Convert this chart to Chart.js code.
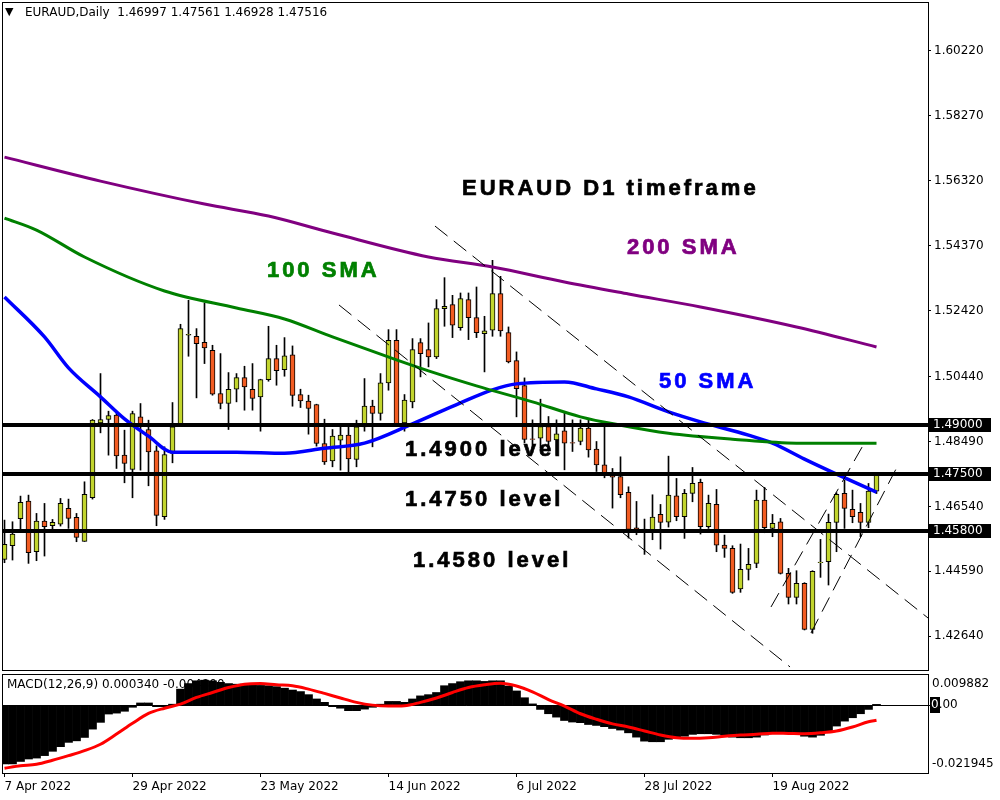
<!DOCTYPE html>
<html>
<head>
<meta charset="utf-8">
<script src="https://cdn.jsdelivr.net/npm/chart.js@4.4.0/dist/chart.umd.min.js"></script>
<style>
  html, body { margin: 0; padding: 0; background: #fff; }
  #wrap { position: relative; width: 1000px; height: 800px; overflow: hidden; background: #fff; }
  #priceCanvas { position: absolute; left: 0; top: 0; }
  #macdCanvas { position: absolute; left: 0; top: 672px; }
</style>
</head>
<body>
<div id="wrap">
  <canvas id="priceCanvas" width="1000" height="672"></canvas>
  <canvas id="macdCanvas" width="1000" height="128"></canvas>
</div>
<script>
// ===== EURAUD Daily - candles, SMAs, MACD =====

// daily candles, one per trading day from 7 Apr 2022
const opens  = [1.4495,1.4536,1.4617,1.4670,1.4518,1.4610,1.4596,1.4601,1.4648,1.4621,
                1.4549,1.4680,1.4905,1.4915,1.4928,1.4808,1.4765,1.4923,1.4885,1.4821,
                1.4623,1.4813,1.4895,1.5168,1.5165,1.5147,1.5123,1.4993,1.4963,1.5006,
                1.5041,1.5006,1.4983,1.5035,1.5098,1.5065,1.5109,1.4990,1.4970,1.4960,
                1.4843,1.4791,1.4853,1.4868,1.4795,1.4893,1.4955,1.4933,1.5025,1.5153,
                1.4905,1.4968,1.5146,1.5125,1.5103,1.5248,1.5260,1.5191,1.5275,1.5221,
                1.5173,1.5183,1.5293,1.5176,1.5092,1.5017,1.4857,1.4859,1.4894,1.4854,
                1.4881,1.4846,1.4849,1.4889,1.4826,1.4779,1.4746,1.4744,1.4696,1.4590,
                1.4586,1.4584,1.4630,1.4607,1.4686,1.4623,1.4693,1.4726,1.4593,1.4660,
                1.4538,1.4528,1.4406,1.4465,1.4483,1.4673,1.4588,1.4608,1.4453,1.4381,
                1.4423,1.4285,1.4485,1.4488,1.4606,1.4693,1.4645,1.4636,1.4606,1.46997];
const highs  = [1.4613,1.4608,1.4685,1.4688,1.4633,1.4663,1.4615,1.4678,1.4676,1.4633,
                1.4728,1.4915,1.5053,1.4940,1.4938,1.4883,1.4940,1.4963,1.4913,1.4836,
                1.4833,1.4966,1.5201,1.5273,1.5188,1.5265,1.5138,1.5113,1.5056,1.5053,
                1.5075,1.5083,1.5036,1.5195,1.5138,1.5161,1.5136,1.5006,1.4988,1.4961,
                1.4916,1.4885,1.4893,1.4893,1.4913,1.5038,1.4973,1.5053,1.5185,1.5185,
                1.4990,1.5158,1.5158,1.5205,1.5275,1.5341,1.5288,1.5295,1.5295,1.5313,
                1.5225,1.5393,1.5345,1.5193,1.5118,1.5040,1.4914,1.4976,1.4924,1.4914,
                1.4939,1.4914,1.4914,1.4914,1.4849,1.4896,1.4768,1.4803,1.4713,1.4669,
                1.4616,1.4689,1.4660,1.4805,1.4738,1.4705,1.4771,1.4736,1.4688,1.4705,
                1.4568,1.4536,1.4541,1.4528,1.4703,1.4711,1.4630,1.4618,1.4468,1.4461,
                1.4425,1.4461,1.4555,1.4631,1.4695,1.4733,1.4703,1.4663,1.4723,1.47561];
const lows   = [1.4485,1.4493,1.4585,1.4483,1.4491,1.4505,1.4585,1.4595,1.4588,1.4548,
                1.4549,1.4676,1.4875,1.4808,1.4768,1.4725,1.4680,1.4763,1.4716,1.4596,
                1.4615,1.4785,1.4895,1.5105,1.4980,1.5083,1.4988,1.4947,1.4885,1.4968,
                1.4943,1.4943,1.4880,1.5030,1.5018,1.5045,1.4955,1.4951,1.4871,1.4835,
                1.4780,1.4773,1.4763,1.4753,1.4773,1.4880,1.4833,1.4913,1.5003,1.4898,
                1.4880,1.4950,1.5043,1.5073,1.5098,1.5195,1.5161,1.5183,1.5155,1.5161,
                1.5058,1.5165,1.5165,1.5085,1.4923,1.4845,1.4815,1.4830,1.4820,1.4810,
                1.4764,1.4819,1.4839,1.4802,1.4759,1.4740,1.4649,1.4680,1.4559,1.4569,
                1.4510,1.4554,1.4526,1.4592,1.4611,1.4558,1.4668,1.4571,1.4588,1.4518,
                1.4501,1.4393,1.4396,1.4433,1.4470,1.4575,1.4563,1.4451,1.4361,1.4361,
                1.4283,1.4273,1.4441,1.4418,1.4518,1.4588,1.4605,1.4563,1.4590,1.46928];
const closes = [1.4540,1.4571,1.4666,1.4515,1.4610,1.4593,1.4606,1.4663,1.4618,1.4561,
                1.4690,1.4913,1.4915,1.4927,1.4806,1.4783,1.4933,1.4901,1.4818,1.4627,
                1.4810,1.4893,1.5188,1.5171,1.5143,1.5130,1.4991,1.4963,1.5006,1.5041,
                1.5013,1.4978,1.5035,1.5098,1.5062,1.5106,1.4987,1.4971,1.4948,1.4843,
                1.4788,1.4865,1.4868,1.4797,1.4893,1.4955,1.4933,1.5025,1.5153,1.4901,
                1.4973,1.5125,1.5113,1.5103,1.5248,1.5255,1.5198,1.5278,1.5221,1.5176,
                1.5181,1.5293,1.5181,1.5088,1.5008,1.4855,1.4855,1.4894,1.4849,1.4872,
                1.4844,1.4844,1.4889,1.4824,1.4779,1.4748,1.4742,1.4689,1.4585,1.4582,
                1.4580,1.4622,1.4606,1.4688,1.4623,1.4693,1.4723,1.4593,1.4663,1.4538,
                1.4528,1.4396,1.4465,1.4480,1.4673,1.4590,1.4603,1.4453,1.4381,1.4423,
                1.4285,1.4459,1.4487,1.4606,1.4690,1.4648,1.4623,1.4606,1.4700,1.47516];

// moving averages, read at sample bars
const sma50Idx  = [0,5,8,12,15,18,21,29,35,40,45,51,57,61,64,70,74,78,83,87,93,96,100,104,109];
const sma50Val  = [1.5283,1.5163,1.5070,1.4983,1.4917,1.4865,1.4817,1.4817,1.4814,1.4829,1.4844,1.4902,1.4965,
                   1.5004,1.5022,1.5028,1.5007,1.4983,1.4938,1.4908,1.4868,1.4844,1.4796,1.4751,1.4697];
const sma100Idx = [0,4,10,20,29,35,41,49,53,59,66,72,77,83,91,99,109];
const sma100Val = [1.5520,1.5484,1.5403,1.5301,1.5250,1.5217,1.5163,1.5094,1.5061,1.5016,1.4968,1.4923,
                   1.4898,1.4874,1.4856,1.4844,1.4844];
const sma200Idx = [0,12,25,33,41,53,61,70,78,87,99,109];
const sma200Val = [1.5703,1.5631,1.5562,1.5526,1.5475,1.5403,1.5373,1.5328,1.5292,1.5253,1.5193,1.5133];

// MACD(12,26,9): main value per bar and signal at sample bars
const macdHist = [-0.0190,-0.0190,-0.0182,-0.0174,-0.0171,-0.0163,-0.0149,-0.0134,-0.0120,-0.0115,
                  -0.0104,-0.0077,-0.0055,-0.0028,-0.0025,-0.0019,-0.0006,0.0008,0.0008,-0.0004,
                  -0.0004,0.0004,0.0053,0.0071,0.0080,0.0082,0.0080,0.0075,0.0071,0.0069,
                  0.0069,0.0067,0.0065,0.0064,0.0061,0.0056,0.0050,0.0045,0.0035,0.0021,
                  0.0010,-0.0004,-0.0009,-0.0017,-0.0017,-0.0012,-0.0006,0.0004,0.0013,0.0013,
                  0.0010,0.0021,0.0031,0.0035,0.0042,0.0064,0.0071,0.0077,0.0080,0.0080,
                  0.0078,0.0080,0.0080,0.0063,0.0047,0.0025,0.0005,-0.0013,-0.0027,-0.0038,
                  -0.0049,-0.0054,-0.0056,-0.0062,-0.0065,-0.0069,-0.0075,-0.0080,-0.0089,-0.0103,
                  -0.0116,-0.0118,-0.0118,-0.0110,-0.0105,-0.0100,-0.0094,-0.0092,-0.0092,-0.0094,
                  -0.0096,-0.0103,-0.0105,-0.0105,-0.0103,-0.0096,-0.0086,-0.0086,-0.0089,-0.0092,
                  -0.0100,-0.0103,-0.0097,-0.0083,-0.0067,-0.0051,-0.0040,-0.0027,-0.0013,0.00034];
const signalIdx = [0,2,4,6,8,10,12,14,16,18,20,22,24,26,28,30,32,34,36,38,40,42,44,46,48,50,52,54,
                   56,58,60,62,64,66,68,70,72,74,76,78,80,82,84,86,88,90,92,94,96,98,100,102,104,106,108,109];
const signalVal = [-0.0204,-0.0196,-0.0191,-0.0178,-0.0163,-0.0147,-0.0126,-0.0093,-0.0058,-0.0026,
                   -0.0009,0.0004,0.0026,0.0042,0.0058,0.0069,0.0071,0.0067,0.0064,0.0053,
                   0.0039,0.0024,0.0010,0.0001,-0.0002,-0.0001,0.0010,0.0024,0.0042,0.0058,
                   0.0067,0.0072,0.0063,0.0044,0.0019,-0.0002,-0.0027,-0.0045,-0.0060,-0.0070,
                   -0.0083,-0.0096,-0.0105,-0.0107,-0.0105,-0.0100,-0.0096,-0.0094,-0.0090,-0.0091,
                   -0.0092,-0.0089,-0.0083,-0.0070,-0.0053,-0.0048];

// hand drawn trend channels: [barIndex, price] end points
const downUpper = [[53.81, 1.5496], [115.44, 1.4319]];
const downLower = [[41.81, 1.5259], [98.19, 1.4172]];
const upLeft    = [[95.81, 1.4352], [107.69, 1.4853]];
const upRight   = [[100.81, 1.4274], [111.69, 1.4778]];

// horizontal levels
const levels = [1.49, 1.475, 1.458];

// axis ticks
const priceTicks = [1.60220, 1.58270, 1.56320, 1.54370, 1.52420, 1.50440, 1.48490, 1.46540, 1.44590, 1.42640];
const dateTickIdx = [0, 16, 32, 48, 64, 80, 96];
const dateTickText = ['7 Apr 2022', '29 Apr 2022', '23 May 2022', '14 Jun 2022', '6 Jul 2022', '28 Jul 2022', '19 Aug 2022'];
const macdMax = 0.009882, macdMin = -0.021945;

// text notes on the chart: [barIndex, price]
const noteText  = ['EURAUD D1 timeframe', '200 SMA', '100 SMA', '50 SMA', '1.4900 level', '1.4750 level', '1.4580 level'];
const noteIdx   = [57.19, 77.8, 32.8, 81.8, 50.06, 50.06, 51.06];
const notePrice = [1.5607, 1.5430, 1.5361, 1.5028, 1.4823, 1.4673, 1.4490];
const noteColor = ['#000000', '#800080', '#008000', '#0000ff', '#000000', '#000000', '#000000'];

const xMin = -0.1875, xMax = 115.4375;
const priceMin = 1.41628, priceMax = 1.61658;

const BULL = '#c2d52e';
const BEAR = '#f25c22';
const AXIS_FONT = { family: 'DejaVu Sans', size: 12 };

Chart.defaults.font.family = 'DejaVu Sans';
Chart.defaults.color = '#000';

function pts(idx, vals) {
    return idx.map((v, k) => ({ x: v, y: vals[k] }));
}
function seg(p) {
    return p.map(q => ({ x: q[0], y: q[1] }));
}
function trendSet(p) {
    return { type: 'line', data: seg(p), borderColor: '#000', borderWidth: 1, borderDash: [16, 8],
             pointRadius: 0, order: 0 };
}
// keep the plot area exactly where the panel frame is
function fixWidth(s) {
    s.width = 72;
    s.paddingTop = 0;
    s.paddingBottom = 0;
}

// ==================== PRICE PANEL ====================
const priceOverlay = {
    id: 'priceOverlay',
    afterDatasetsDraw(chart) {
        const { ctx, chartArea: a, scales: { x, y } } = chart;
        ctx.save();
        ctx.strokeStyle = '#000';
        ctx.lineWidth = 4;
        levels.forEach(v => {
            const py = Math.round(y.getPixelForValue(v));
            ctx.beginPath();
            ctx.moveTo(a.left, py);
            ctx.lineTo(a.right, py);
            ctx.stroke();
        });
        // notes
        ctx.font = 'bold 22px "Liberation Sans", Arial, sans-serif';
        if ('letterSpacing' in ctx) ctx.letterSpacing = '3px';
        ctx.textAlign = 'left';
        ctx.textBaseline = 'middle';
        ctx.lineWidth = 0.7;
        noteText.forEach((t, k) => {
            const px = x.getPixelForValue(noteIdx[k]);
            const py = y.getPixelForValue(notePrice[k]);
            ctx.fillStyle = noteColor[k];
            ctx.strokeStyle = noteColor[k];
            ctx.fillText(t, px, py);
            ctx.strokeText(t, px, py);
        });
        ctx.restore();
    },
    afterDraw(chart) {
        const { ctx, chartArea: a, scales: { y } } = chart;
        ctx.save();
        // frame
        ctx.strokeStyle = '#000';
        ctx.lineWidth = 1;
        ctx.strokeRect(a.left - 0.5, a.top - 0.5, a.right - a.left + 1, a.bottom - a.top + 1);
        // level price boxes on the axis
        ctx.font = '12px "DejaVu Sans"';
        ctx.textBaseline = 'middle';
        ctx.textAlign = 'left';
        levels.forEach(v => {
            const py = Math.round(y.getPixelForValue(v));
            ctx.fillStyle = '#000';
            ctx.fillRect(a.right + 1, py - 7, 62, 14);
            ctx.fillStyle = '#fff';
            ctx.fillText(v.toFixed(5), a.right + 5, py);
        });
        // header
        const last = closes.length - 1;
        ctx.fillStyle = '#000';
        ctx.font = '11px "DejaVu Sans"';
        ctx.fillText('\u25BC', 5, 12);
        ctx.font = '12px "DejaVu Sans"';
        ctx.fillText('EURAUD,Daily  ' + opens[last].toFixed(5) + ' ' + highs[last].toFixed(5) + ' ' +
                     lows[last].toFixed(5) + ' ' + closes[last].toFixed(5), 25, 13);
        ctx.restore();
    }
};

new Chart(document.getElementById('priceCanvas'), {
    type: 'bar',
    data: {
        datasets: [
            trendSet(downUpper), trendSet(downLower), trendSet(upLeft), trendSet(upRight),
            { type: 'line', label: '200 SMA', data: pts(sma200Idx, sma200Val), borderColor: '#800080',
              borderWidth: 3, pointRadius: 0, cubicInterpolationMode: 'monotone', order: 1 },
            { type: 'line', label: '100 SMA', data: pts(sma100Idx, sma100Val), borderColor: '#008000',
              borderWidth: 3, pointRadius: 0, cubicInterpolationMode: 'monotone', order: 1 },
            { type: 'line', label: '50 SMA', data: pts(sma50Idx, sma50Val), borderColor: '#0000ff',
              borderWidth: 3.5, pointRadius: 0, cubicInterpolationMode: 'monotone', order: 1 },
            { type: 'bar', label: 'body', data: opens.map((o, i) => ({ x: i, y: [o, closes[i]] })),
              backgroundColor: opens.map((o, i) => closes[i] >= o ? BULL : BEAR),
              borderColor: '#000', borderWidth: 1, borderSkipped: false, barThickness: 5,
              grouped: false, order: 2 },
            { type: 'bar', label: 'wick', data: lows.map((l, i) => ({ x: i, y: [l, highs[i]] })),
              backgroundColor: '#000', borderWidth: 0, barThickness: 1, grouped: false, order: 3 }
        ]
    },
    options: {
        responsive: false,
        animation: false,
        devicePixelRatio: 1,
        layout: { padding: { left: 3, top: 3, right: 0, bottom: 2 } },
        plugins: { legend: { display: false }, tooltip: { enabled: false } },
        scales: {
            x: { type: 'linear', min: xMin, max: xMax, offset: false, display: false },
            y: {
                type: 'linear', position: 'right', min: priceMin, max: priceMax,
                afterBuildTicks: s => { s.ticks = priceTicks.map(v => ({ value: v })); },
                afterFit: fixWidth,
                ticks: { callback: v => Number(v).toFixed(5), color: '#000', font: AXIS_FONT,
                         padding: 3, autoSkip: false },
                grid: { drawOnChartArea: false, tickLength: 3, color: '#000' },
                border: { color: '#000' }
            }
        }
    },
    plugins: [priceOverlay]
});

// ==================== MACD PANEL ====================
const macdOverlay = {
    id: 'macdOverlay',
    beforeDatasetsDraw(chart) {
        const { ctx, chartArea: a, scales: { y } } = chart;
        ctx.save();
        const zy = Math.round(y.getPixelForValue(0)) + 0.5;
        ctx.strokeStyle = '#000';
        ctx.lineWidth = 1;
        ctx.beginPath();
        ctx.moveTo(a.left, zy);
        ctx.lineTo(a.right + 2, zy);
        ctx.stroke();
        ctx.fillStyle = '#000';
        ctx.font = '12px "DejaVu Sans"';
        ctx.textBaseline = 'middle';
        ctx.fillText('MACD(12,26,9) ' + macdHist[macdHist.length - 1].toFixed(6) + ' ' +
                     signalVal[signalVal.length - 1].toFixed(6), 7, a.top + 10);
        ctx.restore();
    },
    afterDraw(chart) {
        const { ctx, chartArea: a, scales: { y } } = chart;
        ctx.save();
        ctx.strokeStyle = '#000';
        ctx.lineWidth = 1;
        ctx.strokeRect(a.left - 0.5, a.top - 0.5, a.right - a.left + 1, a.bottom - a.top + 1);
        ctx.font = '12px "DejaVu Sans"';
        ctx.textBaseline = 'middle';
        ctx.fillStyle = '#000';
        ctx.fillText(macdMax.toFixed(6), a.right + 4, y.getPixelForValue(macdMax) + 9);
        ctx.fillText(macdMin.toFixed(6), a.right + 4, y.getPixelForValue(macdMin) - 9);
        const zy = Math.round(y.getPixelForValue(0));
        ctx.fillRect(a.right + 2, zy - 8, 10, 16);
        ctx.fillText('0.00', a.right + 3, zy);
        ctx.fillStyle = '#fff';
        ctx.fillText('0', a.right + 3, zy);
        ctx.restore();
    }
};

new Chart(document.getElementById('macdCanvas'), {
    type: 'bar',
    data: {
        datasets: [
            { type: 'line', label: 'signal', data: pts(signalIdx, signalVal), borderColor: '#ff0000',
              borderWidth: 3, pointRadius: 0, cubicInterpolationMode: 'monotone', order: 0 },
            { type: 'bar', label: 'MACD', data: macdHist.map((v, i) => ({ x: i, y: v })),
              backgroundColor: '#000', borderWidth: 0, barPercentage: 1, categoryPercentage: 1, order: 1 }
        ]
    },
    options: {
        responsive: false,
        animation: false,
        devicePixelRatio: 1,
        layout: { padding: { left: 3, top: 3, right: 0, bottom: 0 } },
        plugins: { legend: { display: false }, tooltip: { enabled: false } },
        scales: {
            x: {
                type: 'linear', min: xMin, max: xMax, offset: false,
                afterBuildTicks: s => { s.ticks = dateTickIdx.map(v => ({ value: v })); },
                afterFit: s => { s.height = 27; },
                ticks: { callback: (v, i) => dateTickText[i], align: 'start', maxRotation: 0,
                         autoSkip: false, padding: 3, color: '#000', font: AXIS_FONT },
                grid: { drawOnChartArea: false, offset: false, tickLength: 4, color: '#000' },
                border: { color: '#000' }
            },
            y: {
                type: 'linear', position: 'right', min: macdMin, max: macdMax,
                afterFit: fixWidth,
                ticks: { display: false },
                grid: { display: false },
                border: { color: '#000' }
            }
        }
    },
    plugins: [macdOverlay]
});
</script>
</body>
</html>
